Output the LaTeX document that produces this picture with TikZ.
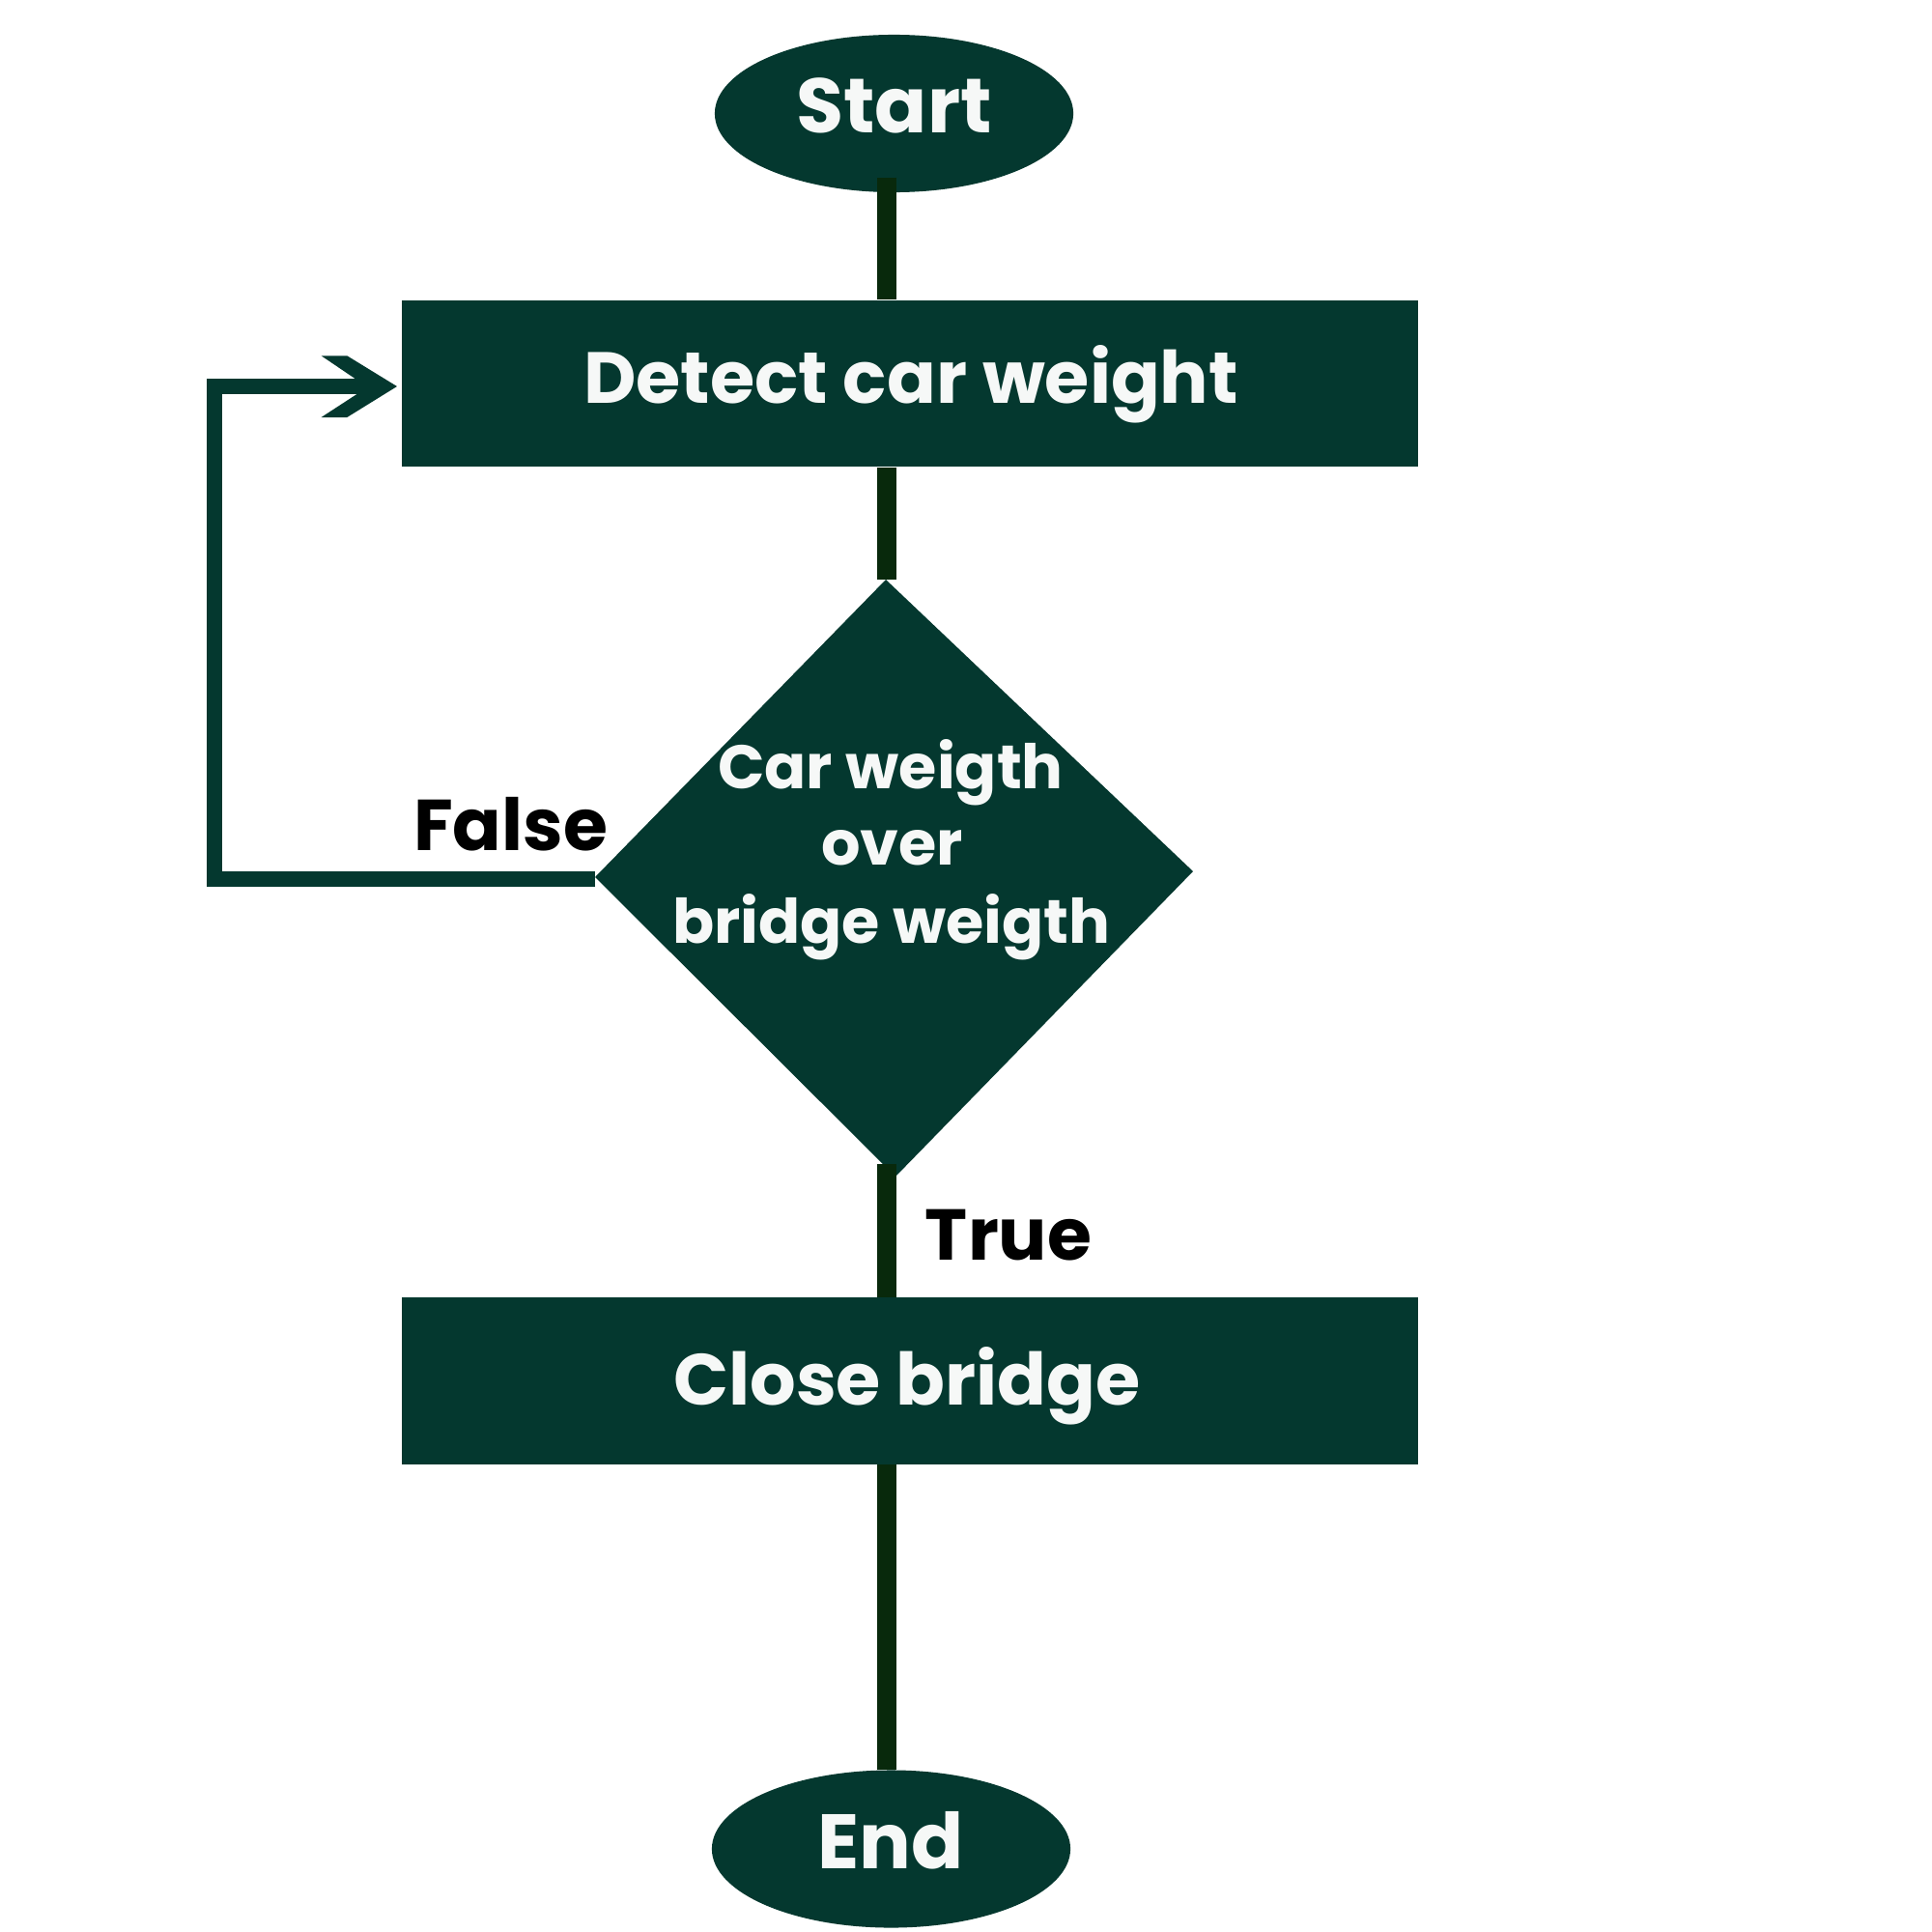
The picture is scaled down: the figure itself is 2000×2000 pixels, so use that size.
\documentclass[tikz,border=0pt]{standalone}
\usepackage{fontspec}
\setmainfont{Poppins}
\usetikzlibrary{shapes.geometric,calc}
\definecolor{boxgreen}{HTML}{04382F}
\definecolor{linegreen}{HTML}{08290C}
\definecolor{txtwhite}{HTML}{F6F8F7}
\begin{document}
\begin{tikzpicture}[x=0.01cm,y=-0.01cm,
  term/.style={ellipse, fill=boxgreen, minimum width=3.71cm, minimum height=1.63cm, inner sep=0pt},
  proc/.style={rectangle, fill=boxgreen, minimum width=10.52cm, minimum height=1.72cm, inner sep=0pt},
  wtxt/.style={anchor=base, inner sep=0pt, text=txtwhite, font=\bfseries\fontsize{21.3}{26}\selectfont},
  ttxt/.style={anchor=base, inner sep=0pt, text=txtwhite, font=\bfseries\fontsize{22.7}{26}\selectfont},
  dtxt/.style={anchor=base, inner sep=0pt, text=txtwhite, font=\bfseries\fontsize{18.1}{22}\selectfont},
  btxt/.style={anchor=base, inner sep=0pt, text=black, font=\bfseries\fontsize{21.2}{26}\selectfont},
  spine/.style={draw=linegreen, line width=0.2cm},
  loopline/.style={draw=boxgreen, line width=0.16cm, line join=miter}
]
\fill[white] (0,0) rectangle (2000,2000);
\useasboundingbox (0,0) rectangle (2000,2000);

% shapes
\node[term] (start) at (925.5,117.5) {};
\node[proc] (detect) at (942,397) {};
\coordinate (dtop) at (917,600);
\coordinate (dright) at (1235,902);
\coordinate (dbot) at (927,1218);
\coordinate (dleft) at (616,908);
\fill[boxgreen] (dtop) -- (dright) -- (dbot) -- (dleft) -- cycle;
\node[proc] (close) at (942,1429.5) {};
\node[term] (end) at (922.5,1914) {};

% spine connectors
\coordinate (sp) at (918,0);
\draw[spine] (sp |- 0,184) -- (detect.north -| sp);
\draw[spine] (detect.south -| sp) -- (sp |- dtop);
\draw[spine] (sp |- 0,1205) -- (close.north -| sp);
\draw[spine] (close.south -| sp) -- (end.north -| sp);

% false loop
\coordinate (lc1) at (222,910);
\coordinate (lc2) at (222,400);
\coordinate (notch) at (376,400);
\coordinate (tip) at (detect.west |- lc2);
\draw[loopline] (dleft |- lc1) -- (lc1) -- (lc2) -- (notch);
\fill[boxgreen] ($(tip)+(-4,0)$) -- ++(-51.7,-31.7) -- ++(-26.7,0) -- ++(38.4,26) -- ++(0,12.7) -- ++(-38.4,25) -- ++(26.7,0) -- cycle;

% texts
\node[ttxt] (starttxt) at (925.5,138) {Start};
\node[wtxt] (detecttxt) at (943,417) {Detect car weight};
\node[dtxt] (d1) at (922,816) {Car weigth};
\node[dtxt] (d2) at (923.5,895) {over};
\node[dtxt] (d3) at (923,976) {bridge weigth};
\node[wtxt] (closetxt) at (939,1454) {Close bridge};
\node[ttxt] (endtxt) at (922,1934) {End};
\node[btxt] (falsetxt) at (528.5,880) {False};
\node[btxt] (truetxt) at (1044,1304) {True};
\end{tikzpicture}
\end{document}
